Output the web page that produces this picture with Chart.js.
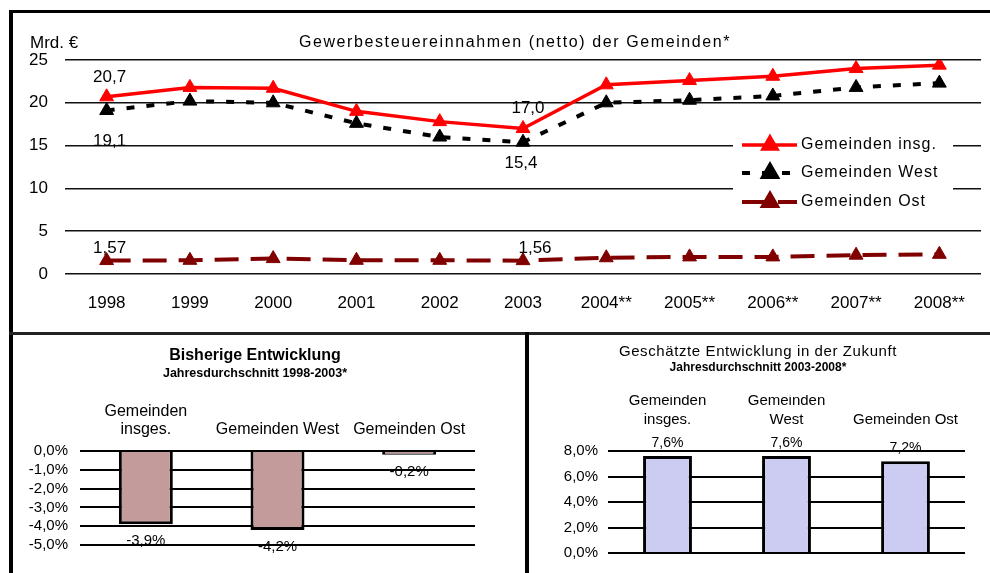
<!DOCTYPE html>
<html>
<head>
<meta charset="utf-8">
<script src="https://cdn.jsdelivr.net/npm/chart.js@4.4.1/dist/chart.umd.min.js"></script>
<style>
  body { margin: 0; background: #fff; width: 990px; height: 573px; overflow: hidden; position: relative;
         font-family: "Liberation Sans", Arial, sans-serif; color: #000; }
  canvas, .txt, .rule { position: absolute; }
  .txt { white-space: nowrap; text-align: center; }
  .rule { background: #000; z-index: 5; }
</style>
</head>
<body>
<!-- frame -->
<div class="rule" style="left:9px;top:10px;width:981px;height:3px"></div>
<div class="rule" style="left:9px;top:10px;width:4px;height:563px"></div>
<div class="rule" style="left:9px;top:332px;width:981px;height:3px;background:#222"></div>
<div class="rule" style="left:525px;top:332px;width:4px;height:241px"></div>

<canvas id="lineChart" width="977" height="318" style="left:13px;top:13px"></canvas>
<canvas id="pastChart" width="512" height="238" style="left:13px;top:335px"></canvas>
<canvas id="futureChart" width="460" height="238" style="left:530px;top:335px"></canvas>

<div class="txt" style="left:30px;top:33px;font-size:17px;line-height:20px;text-align:left">Mrd. €</div>
<div class="txt" style="left:215px;top:32px;width:600px;font-size:16px;line-height:20px;letter-spacing:1.6px">Gewerbesteuereinnahmen (netto) der Gemeinden*</div>
<div class="txt" style="left:105px;top:345px;width:300px;font-size:16px;line-height:20px;font-weight:bold">Bisherige Entwicklung</div>
<div class="txt" style="left:105px;top:365px;width:300px;font-size:12.5px;line-height:16px;font-weight:bold">Jahresdurchschnitt 1998-2003*</div>
<div class="txt" style="left:608px;top:342px;width:300px;font-size:15px;line-height:18px;letter-spacing:0.6px">Geschätzte Entwicklung in der Zukunft</div>
<div class="txt" style="left:608px;top:360px;width:300px;font-size:12px;line-height:14px;font-weight:bold">Jahresdurchschnitt 2003-2008*</div>

<script>
// Gewerbesteuereinnahmen der Gemeinden

const years = ['1998', '1999', '2000', '2001', '2002', '2003', '2004**', '2005**', '2006**', '2007**', '2008**'];
const seriesNames = ['Gemeinden insg.', 'Gemeinden West', 'Gemeinden Ost'];
const gesamt = [20.7, 21.8, 21.7, 19.0, 17.8, 17.0, 22.1, 22.6, 23.1, 24.0, 24.4];
const west   = [19.1, 20.2, 20.0, 17.6, 16.0, 15.4, 20.0, 20.3, 20.8, 21.8, 22.3];
const ost    = [1.57, 1.6, 1.8, 1.6, 1.6, 1.56, 1.9, 2.0, 2.0, 2.2, 2.3];
const yTicksTop = [0, 5, 10, 15, 20, 25];

const pastCats = [['Gemeinden', 'insges.'], 'Gemeinden West', 'Gemeinden Ost'];
const pastGrowth = [-3.9, -4.2, -0.2];
const futureCats = [['Gemeinden', 'insges.'], ['Gemeinden', 'West'], 'Gemeinden Ost'];
const futureGrowth = [7.6, 7.6, 7.2];

// which points get a value label: [dataset, index, dx, dy]
const lineLabels = [[0, 0, 3, -19], [1, 0, 3, 31], [0, 5, 5, -20], [1, 5, -2, 21], [2, 0, 3, -12], [2, 5, 12, -12]];

const FONT = '"Liberation Sans", Arial, sans-serif';
Chart.defaults.font.family = FONT;
Chart.defaults.color = '#000';
Chart.defaults.animation = false;

function pct(v) { return v.toFixed(1).replace('.', ',') + '%'; }

const pointLabels = {
  id: 'pointLabels',
  afterDatasetsDraw(chart) {
    const ctx = chart.ctx;
    ctx.save();
    ctx.font = '17px ' + FONT;
    ctx.fillStyle = '#000';
    ctx.textAlign = 'center';
    ctx.textBaseline = 'middle';
    lineLabels.forEach(function (l) {
      const pt = chart.getDatasetMeta(l[0]).data[l[1]];
      const v = chart.data.datasets[l[0]].data[l[1]];
      ctx.fillText(v.toFixed(l[0] === 2 ? 2 : 1).replace('.', ','), pt.x + l[2], pt.y + l[3]);
    });
    ctx.restore();
  }
};

const lineLegend = {
  id: 'lineLegend',
  afterDraw(chart) {
    const ctx = chart.ctx;
    ctx.save();
    ctx.fillStyle = '#fff';
    ctx.fillRect(720, 117, 220, 85);
    const rows = [132, 160, 189];
    chart.data.datasets.forEach(function (ds, i) {
      const y = rows[i];
      ctx.strokeStyle = ds.borderColor;
      ctx.lineWidth = ds.borderWidth;
      ctx.setLineDash(ds.borderDash || []);
      ctx.beginPath();
      ctx.moveTo(729, y);
      ctx.lineTo(784, y);
      ctx.stroke();
      ctx.setLineDash([]);
      ctx.fillStyle = ds.pointBackgroundColor;
      Chart.helpers.drawPoint(ctx, { pointStyle: 'triangle', radius: 8, rotation: 0, borderWidth: 1 }, 757, y);
      ctx.fillStyle = '#000';
      ctx.font = '16px ' + FONT;
      ctx.letterSpacing = '1px';
      ctx.textAlign = 'left';
      ctx.textBaseline = 'middle';
      ctx.fillText(ds.label, 788, y);
      ctx.letterSpacing = '0px';
    });
    ctx.restore();
  }
};

new Chart(document.getElementById('lineChart').getContext('2d'), {
  type: 'line',
  data: {
    labels: years,
    datasets: [
      { label: seriesNames[0], data: gesamt, borderColor: '#ff0000', backgroundColor: '#ff0000',
        pointBackgroundColor: '#ff0000', pointBorderColor: '#ff0000', borderWidth: 3.5, tension: 0,
        pointStyle: 'triangle', pointRadius: 8, pointBorderWidth: 1, order: 2 },
      { label: seriesNames[1], data: west, borderColor: '#000000', backgroundColor: '#000000',
        pointBackgroundColor: '#000000', pointBorderColor: '#000000', borderWidth: 4, borderDash: [8, 12],
        tension: 0, pointStyle: 'triangle', pointRadius: 8, pointBorderWidth: 1, order: 1 },
      { label: seriesNames[2], data: ost, borderColor: '#800000', backgroundColor: '#800000',
        pointBackgroundColor: '#800000', pointBorderColor: '#800000', borderWidth: 4, borderDash: [24, 12],
        tension: 0, pointStyle: 'triangle', pointRadius: 8, pointBorderWidth: 1, order: 3 }
    ]
  },
  options: {
    responsive: false,
    layout: { padding: { top: 47, left: 0, right: 5, bottom: 17 } },
    plugins: { legend: { display: false }, tooltip: { enabled: false } },
    scales: {
      x: {
        offset: true,
        grid: { display: false, drawTicks: false },
        border: { display: false },
        ticks: { font: { size: 17 }, padding: 19, maxRotation: 0, autoSkip: false },
        afterFit: function (s) { s.height = 40; }
      },
      y: {
        min: 0, max: 25,
        afterBuildTicks: function (s) { s.ticks = yTicksTop.map(function (v) { return { value: v }; }); },
        grid: { color: '#111', lineWidth: 1.5, drawTicks: false },
        border: { display: false },
        ticks: { font: { size: 17 }, padding: 17, autoSkip: false },
        afterFit: function (s) { s.width = 52; }
      }
    }
  },
  plugins: [pointLabels, lineLegend]
});

const barValueLabels = {
  id: 'barValueLabels',
  afterDatasetsDraw(chart, args, opts) {
    const ctx = chart.ctx;
    ctx.save();
    ctx.font = opts.size + 'px ' + FONT;
    ctx.fillStyle = '#000';
    ctx.textAlign = 'center';
    ctx.textBaseline = 'middle';
    chart.getDatasetMeta(0).data.forEach(function (bar, i) {
      const v = chart.data.datasets[0].data[i];
      ctx.fillText(pct(v), bar.x, v < 0 ? bar.y + opts.offset : bar.y - opts.offset);
    });
    ctx.restore();
  }
};

function drawGrowthChart(id, cats, values, color, yMin, yMax, step, g) {
  new Chart(document.getElementById(id).getContext('2d'), {
    type: 'bar',
    data: {
      labels: cats,
      datasets: [{ data: values, backgroundColor: color, borderColor: '#000', borderWidth: 3,
                   borderSkipped: 'start', categoryPercentage: 1, barPercentage: 0.41 }]
    },
    options: {
      responsive: false,
      layout: { padding: { top: 60, left: 0, right: g.right, bottom: g.bottom } },
      plugins: { legend: { display: false }, tooltip: { enabled: false },
                 barValueLabels: { size: g.valueSize, offset: g.valueOffset } },
      scales: {
        x: {
          position: 'top',
          grid: { display: false, drawTicks: false },
          border: { display: false },
          ticks: { font: { size: g.catSize, lineHeight: g.catLine }, padding: g.catPad, maxRotation: 0, autoSkip: false },
          afterFit: function (s) { s.height = 56; }
        },
        y: {
          min: yMin, max: yMax,
          ticks: { stepSize: step, font: { size: g.tickSize }, padding: g.tickPad, callback: pct, autoSkip: false },
          grid: { color: '#000', lineWidth: 2, drawTicks: false },
          border: { display: false },
          afterFit: function (s) { s.width = g.axisWidth; }
        }
      }
    },
    plugins: [barValueLabels]
  });
}

drawGrowthChart('pastChart', pastCats, pastGrowth, '#c39b9b', -5, 0, 1,
  { right: 50, bottom: 28, axisWidth: 67, tickSize: 15, tickPad: 12, catSize: 16, catLine: 1.15, catPad: 12, valueSize: 15, valueOffset: 17 });
drawGrowthChart('futureChart', futureCats, futureGrowth, '#ccccf2', 0, 8, 2,
  { right: 25, bottom: 20, axisWidth: 78, tickSize: 15, tickPad: 10, catSize: 15, catLine: 1.3, catPad: 21, valueSize: 14, valueOffset: 13 });
</script>
</body>
</html>
